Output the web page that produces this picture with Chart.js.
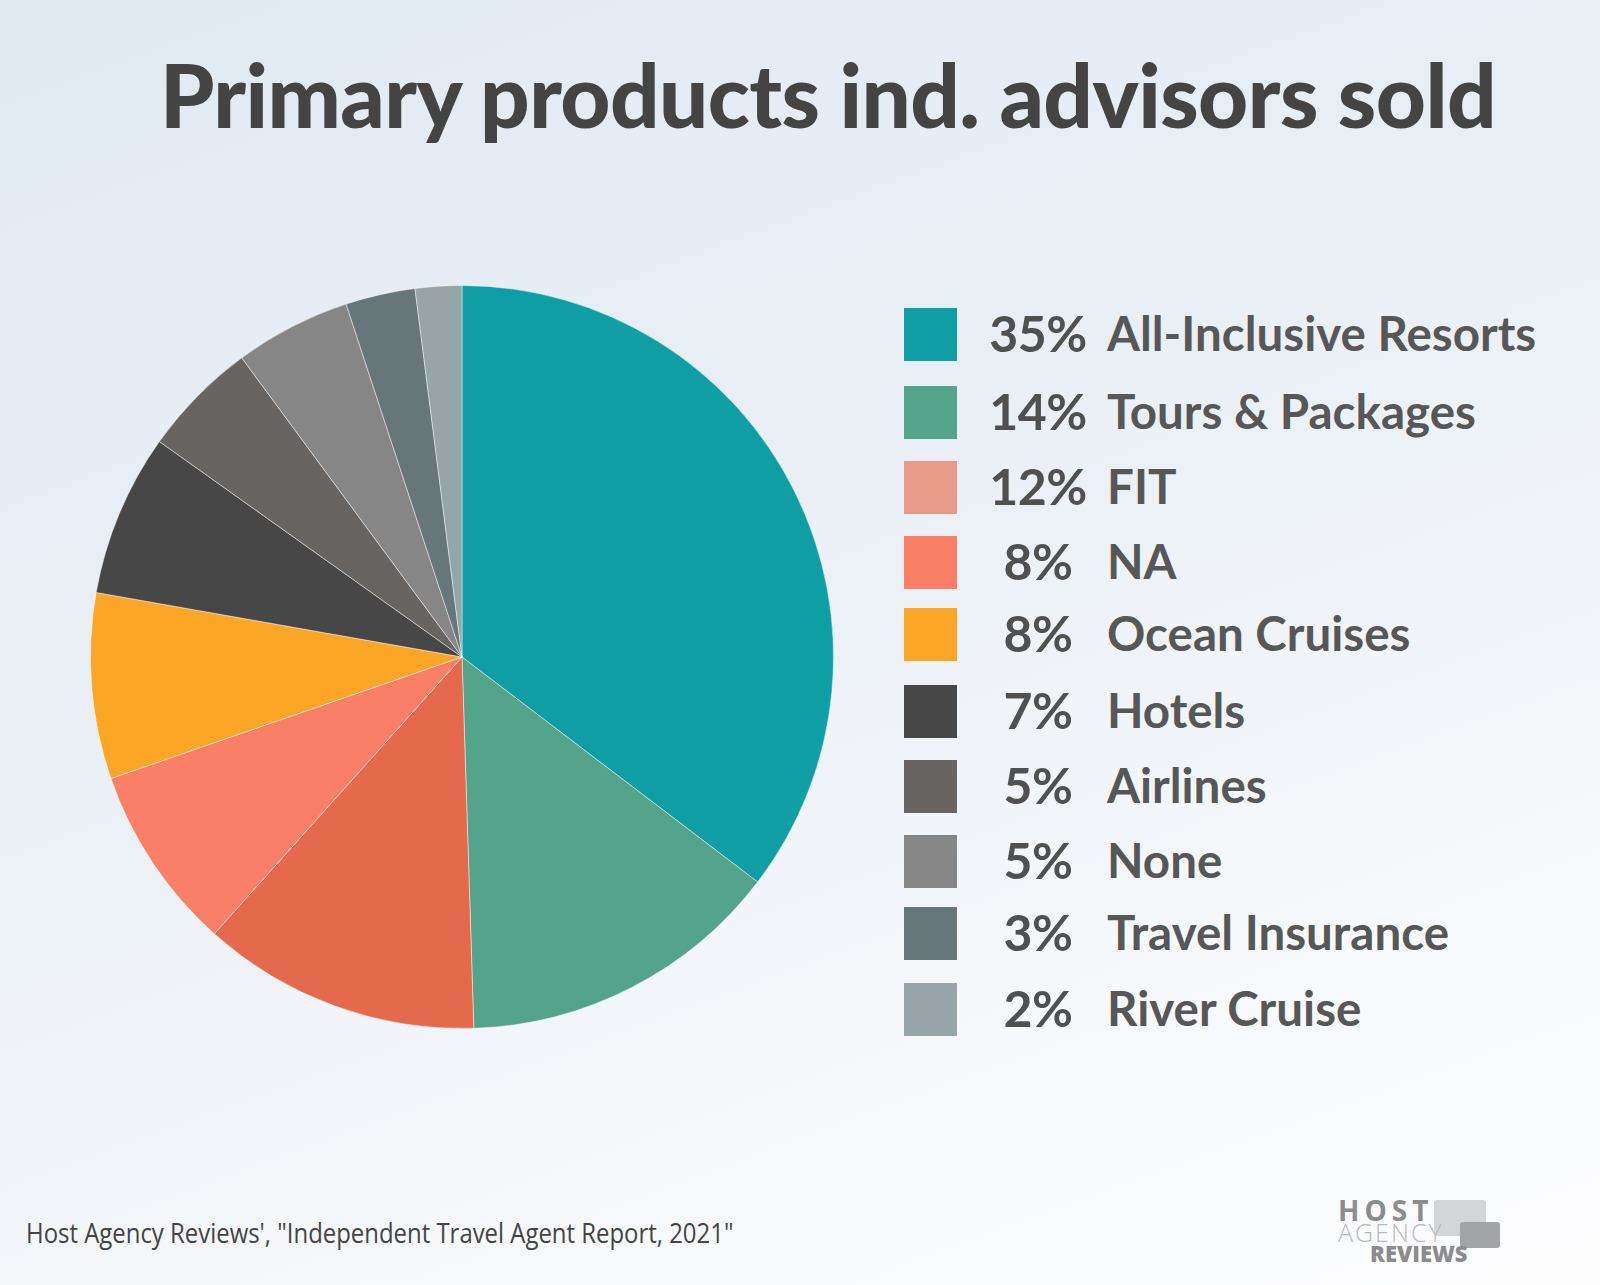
<!DOCTYPE html>
<html>
<head>
<meta charset="utf-8">
<script src="https://cdn.jsdelivr.net/npm/chart.js@4.4.1/dist/chart.umd.min.js"></script>
<style>
  html, body { margin: 0; padding: 0; }
  body {
    width: 1600px; height: 1285px; position: relative; overflow: hidden;
    background: linear-gradient(160deg, #e1e9f1 0%, #e9eff5 40%, #f6f8fb 75%, #fdfdfe 100%);
    font-family: Lato, "Open Sans", sans-serif;
  }
  #title {
    position: absolute; left: 0; top: 42px; width: 1656px; text-align: center;
    margin: 0; font-size: 87px; font-weight: 900; color: #444; letter-spacing: -0.6px;
  }
  #pie-box { position: absolute; left: 82px; top: 277px; width: 760px; height: 760px; }
  #legend { position: absolute; left: 904px; top: 308px; }
  .row { position: absolute; left: 0; height: 53px; width: 680px; }
  .sw { position: absolute; left: 0; top: 0; width: 53px; height: 53px; }
  .pct { position: absolute; left: 76px; width: 116px; text-align: center; top: -5px;
         font-size: 50px; font-weight: 700; color: #505050; line-height: 60px; letter-spacing: -0.5px; }
  .lbl { position: absolute; left: 203px; top: -4px; white-space: nowrap;
         font-size: 47.5px; font-weight: 700; color: #575757; line-height: 58px; }
  #source { position: absolute; left: 26px; top: 1214px; font-size: 27px; color: #444;
            font-family: "Open Sans", sans-serif; white-space: nowrap;
            transform: scaleX(0.886); transform-origin: 0 0; }
  #logo { position: absolute; left: 1338px; top: 1196px; width: 170px; height: 70px; }
  #logo .t { position: absolute; left: 0; font-family: "Open Sans", sans-serif; line-height: 1; }
  .bub { position: absolute; border-radius: 3px; }
</style>
</head>
<body>
<h1 id="title">Primary products ind. advisors sold</h1>
<div id="pie-box"><canvas id="pie"></canvas></div>
<div id="legend"></div>
<div id="source">Host Agency Reviews', "Independent Travel Agent Report, 2021"</div>
<div id="logo">
  <div class="bub" style="left:96px;top:4px;width:52px;height:36px;background:#d4d5d6;"></div>
  <div class="bub" style="left:122px;top:26px;width:40px;height:26px;background:#a3a4a5;"></div>
  <div class="t" style="top:0;font-size:28px;font-weight:700;letter-spacing:5px;color:#8b8c8d;">HOST</div>
  <div class="t" style="top:24px;font-size:25px;font-weight:300;letter-spacing:2px;color:#b8b9ba;">AGENCY</div>
  <div class="t" style="top:46px;left:32px;font-size:22px;font-weight:800;color:#8b8c8d;">REVIEWS</div>
</div>
<script>
const labels = ['All-Inclusive Resorts', 'Tours & Packages', 'FIT', 'NA', 'Ocean Cruises',
  'Hotels', 'Airlines', 'None', 'Travel Insurance', 'River Cruise'];
const shares = [35, 14, 12, 8, 8, 7, 5, 5, 3, 2];
const sliceColors = ['#0f9ea4', '#53a48a', '#e5694c', '#f98066', '#fba626',
  '#474747', '#686462', '#868686', '#677679', '#97a4a8'];
const legendColors = ['#0f9ea4', '#53a48a', '#e99a89', '#fb7f64', '#fba626',
  '#474747', '#686462', '#868686', '#677679', '#97a4a8'];
const rowTops = [0, 78, 153, 228, 300, 377, 452, 527, 599, 675];

new Chart(document.getElementById('pie'), {
  type: 'pie',
  data: {
    labels,
    datasets: [{
      data: shares,
      backgroundColor: sliceColors,
      borderColor: 'rgba(255,255,255,0.45)',
      borderWidth: 1,
    }],
  },
  options: {
    responsive: true,
    maintainAspectRatio: false,
    animation: false,
    layout: { padding: 8 },
    plugins: { legend: { display: false }, tooltip: { enabled: false } },
  },
});

const legendEl = document.getElementById('legend');
labels.forEach((name, i) => {
  legendEl.innerHTML += `
    <div class="row" style="top:${rowTops[i]}px">
      <div class="sw" style="background:${legendColors[i]}"></div>
      <div class="pct">${shares[i]}%</div>
      <div class="lbl">${name.replace('&', '&amp;')}</div>
    </div>`;
});
</script>
</body>
</html>
